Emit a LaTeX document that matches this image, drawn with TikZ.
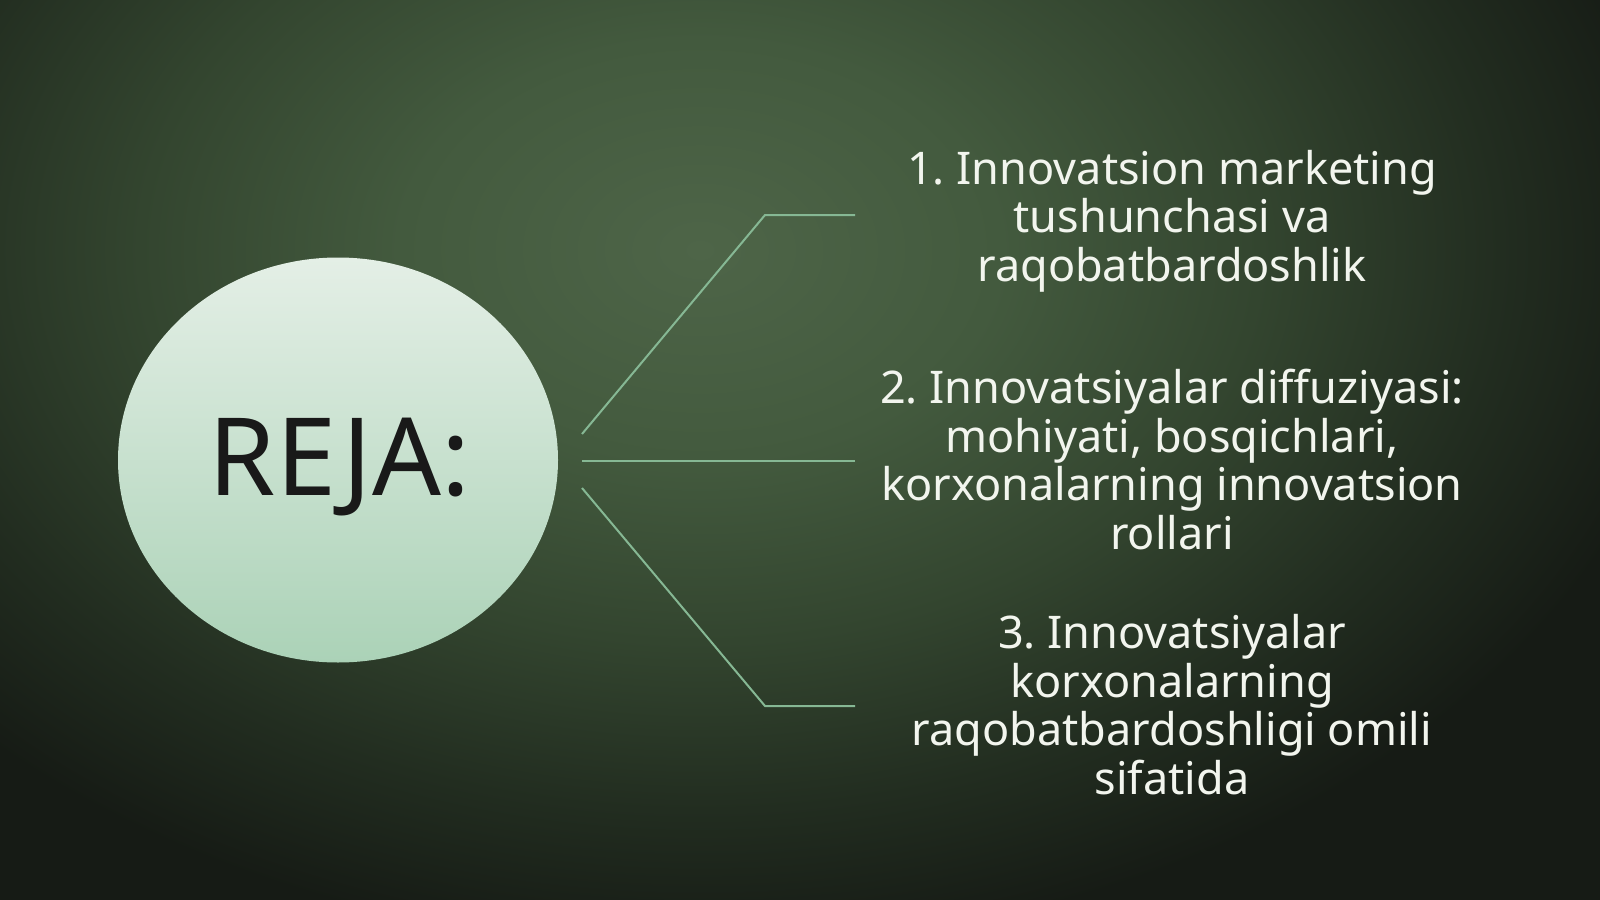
\documentclass[tikz,border=0pt]{standalone}
\usepackage{fontspec}
\setmainfont{Noto Sans}
\usetikzlibrary{shapes.geometric}
\frenchspacing
\definecolor{bgdark}{HTML}{161B15}
\definecolor{vc0}{HTML}{4E6548}
\definecolor{vc1}{HTML}{435A3E}
\definecolor{vc2}{HTML}{33452F}
\definecolor{vc3}{HTML}{222D20}
\definecolor{vc4}{HTML}{161B15}
\definecolor{elltop}{HTML}{E4EFE6}
\definecolor{ellbot}{HTML}{ABD2B7}
\definecolor{linecol}{HTML}{86B894}
\definecolor{txtcol}{HTML}{F2F5EE}
\pgfdeclareradialshading{vign}{\pgfpoint{0bp}{0bp}}{color(0bp)=(vc0); color(7.5bp)=(vc1); color(14bp)=(vc2); color(20bp)=(vc3); color(25bp)=(vc4); color(50bp)=(vc4)}
\tikzset{
  planbubble/.style={ellipse, inner sep=0pt, minimum width=440pt, minimum height=405pt, top color=elltop, bottom color=ellbot, draw=none},
  conn/.style={draw=linecol, line width=2pt},
  itemtext/.style={text=txtcol, align=center, inner sep=0pt, font=\fontsize{45pt}{48.5pt}\selectfont},
  rejatext/.style={text=black!90, inner sep=0pt, font=\fontsize{108pt}{120pt}\selectfont}
}
\begin{document}
\begin{tikzpicture}[x=1pt,y=-1pt]
\useasboundingbox (0,0) rectangle (1600,899);
\fill[bgdark] (0,0) rectangle (1600,899);
\begin{scope}
\clip (0,0) rectangle (1600,899);
\shade[shading=vign] (-300,-450) rectangle (1700,950);
\end{scope}

\node[planbubble] (bubble) at (338,460) {};
\node[rejatext, anchor=base] (reja) at (339.5,495) {REJA:};

\coordinate (s1) at (582,434);
\coordinate (s2) at (582,461);
\coordinate (s3) at (582,488);
\coordinate (k1) at (765,215);
\coordinate (k3) at (765,706);
\coordinate (t1) at (855,215);
\coordinate (t2) at (855,461);
\coordinate (t3) at (855,706);

\draw[conn] (s1) -- (k1) -- (t1);
\draw[conn] (s2) -- (t2);
\draw[conn] (s3) -- (k3) -- (t3);

\node[itemtext, anchor=base] (item1) at (1172,281) {1. Innovatsion marketing\\tushunchasi va\\raqobatbardoshlik};
\node[itemtext, anchor=base] (item2) at (1172,549) {2. Innovatsiyalar diffuziyasi:\\mohiyati, bosqichlari,\\korxonalarning innovatsion\\rollari};
\node[itemtext, anchor=base] (item3) at (1172,794) {3. Innovatsiyalar\\korxonalarning\\raqobatbardoshligi omili\\sifatida};
\end{tikzpicture}
\end{document}
